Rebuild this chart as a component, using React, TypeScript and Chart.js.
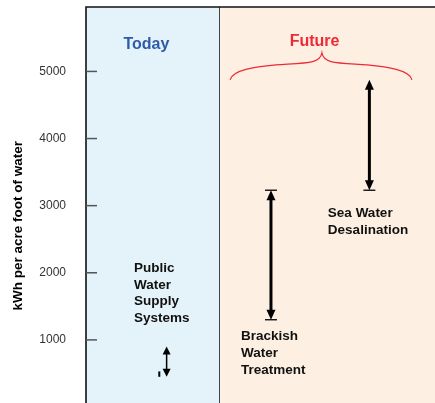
import React, { useEffect, useRef } from "react";
import { Chart, registerables } from "chart.js";

Chart.register(...registerables);

// ---- data ----
const yTickValues = [1000, 2000, 3000, 4000, 5000];
const categories = [
  ["Public", "Water", "Supply", "Systems"],
  ["Brackish", "Water", "Treatment"],
  ["Sea Water", "Desalination"],
];
const arrowX = [23.1, 53.0, 81.2];
const lowValues = [450, 1300, 3230];
const highValues = [900, 3230, 4875];
const capLow = [false, true, true];
const capHigh = [false, true, false];
const labelX = [13.75, 44.4, 69.3];
const labelY = [2072, 1058, 2892];
const markX = [21.0];
const markLow = [450];
const markHigh = [530];
const periodBoundary = 38.4;
const periodLabels = ["Today", "Future"];
const periodLabelX = [17.3, 65.5];
const periodLabelY = [5395, 5440];
const braceX = [41.3, 67.6, 93.4];
const braceY = [4875, 5083, 5277];
const yTitle = "kWh per acre foot of water";

const FONT = "'Liberation Sans', Arial, Helvetica, sans-serif";

const drawPlugin = {
  id: "custom",
  beforeDraw(chart: any) {
    const { ctx, chartArea, scales } = chart;
    const xs = scales.x;
    const xb = xs.getPixelForValue(periodBoundary);
    ctx.save();
    ctx.fillStyle = "#e4f3f9";
    ctx.fillRect(chartArea.left, chartArea.top, xb - chartArea.left, chartArea.bottom - chartArea.top);
    ctx.fillStyle = "#fdf0e3";
    ctx.fillRect(xb, chartArea.top, chartArea.right - xb, chartArea.bottom - chartArea.top);
    ctx.restore();
  },
  afterDraw(chart: any) {
    const { ctx, chartArea, scales } = chart;
    const xs = scales.x;
    const ys = scales.y;
    ctx.save();
    // boundary line
    const xb = Math.round(xs.getPixelForValue(periodBoundary)) - 0.5;
    ctx.strokeStyle = "#3a4650";
    ctx.lineWidth = 1;
    ctx.beginPath();
    ctx.moveTo(xb, chartArea.top);
    ctx.lineTo(xb, chartArea.bottom);
    ctx.stroke();
    // axis + top border
    ctx.strokeStyle = "#111";
    ctx.lineWidth = 1.6;
    ctx.beginPath();
    ctx.moveTo(chartArea.left, chartArea.bottom);
    ctx.lineTo(chartArea.left, chartArea.top);
    ctx.lineTo(chartArea.right, chartArea.top);
    ctx.stroke();
    // inward ticks
    ctx.strokeStyle = "#555";
    ctx.lineWidth = 1.5;
    yTickValues.forEach((v) => {
      const py = ys.getPixelForValue(v);
      ctx.beginPath();
      ctx.moveTo(chartArea.left, py);
      ctx.lineTo(chartArea.left + 11, py);
      ctx.stroke();
    });
    // y title
    ctx.save();
    ctx.translate(18, ys.getPixelForValue(2700));
    ctx.rotate(-Math.PI / 2);
    ctx.fillStyle = "#000";
    ctx.font = `bold 13.5px ${FONT}`;
    ctx.textAlign = "center";
    ctx.textBaseline = "middle";
    ctx.fillText(yTitle, 0, 0);
    ctx.restore();

    // arrows
    arrowX.forEach((xv, i) => {
      const px = xs.getPixelForValue(xv);
      const pLow = ys.getPixelForValue(lowValues[i]);
      const pHigh = ys.getPixelForValue(highValues[i]);
      const small = i === 0;
      const hl = small ? 8 : 10;
      const hw = small ? 4 : 4.5;
      ctx.strokeStyle = "#000";
      ctx.fillStyle = "#000";
      ctx.lineWidth = small ? 1.5 : 3;
      ctx.beginPath();
      ctx.moveTo(px, pHigh + hl - 1);
      ctx.lineTo(px, pLow - hl + 1);
      ctx.stroke();
      // heads
      ctx.beginPath();
      ctx.moveTo(px, pHigh);
      ctx.lineTo(px - hw, pHigh + hl);
      ctx.lineTo(px + hw, pHigh + hl);
      ctx.closePath();
      ctx.fill();
      ctx.beginPath();
      ctx.moveTo(px, pLow);
      ctx.lineTo(px - hw, pLow - hl);
      ctx.lineTo(px + hw, pLow - hl);
      ctx.closePath();
      ctx.fill();
      ctx.lineWidth = 1.3;
      if (capHigh[i]) {
        ctx.beginPath();
        ctx.moveTo(px - 6, pHigh);
        ctx.lineTo(px + 6, pHigh);
        ctx.stroke();
      }
      if (capLow[i]) {
        ctx.beginPath();
        ctx.moveTo(px - 6, pLow);
        ctx.lineTo(px + 6, pLow);
        ctx.stroke();
      }
    });
    // small stray mark
    markX.forEach((xv, i) => {
      const px = xs.getPixelForValue(xv);
      ctx.fillStyle = "#000";
      const t = ys.getPixelForValue(markHigh[i]);
      const b = ys.getPixelForValue(markLow[i]);
      ctx.fillRect(px - 1, t, 2, b - t);
    });

    // category labels
    ctx.fillStyle = "#111";
    ctx.font = `bold 13.5px ${FONT}`;
    ctx.textAlign = "left";
    ctx.textBaseline = "middle";
    categories.forEach((lines, i) => {
      const px = xs.getPixelForValue(labelX[i]);
      const py = ys.getPixelForValue(labelY[i]);
      lines.forEach((ln, k) => ctx.fillText(ln, px, py + k * 16.9));
    });

    // period labels
    ctx.font = `bold 16px ${FONT}`;
    ctx.textAlign = "center";
    const periodColors = ["#2d5ba8", "#ee2a36"];
    periodLabels.forEach((t, i) => {
      ctx.fillStyle = periodColors[i];
      ctx.fillText(t, xs.getPixelForValue(periodLabelX[i]), ys.getPixelForValue(periodLabelY[i]));
    });

    // brace
    const x0 = xs.getPixelForValue(braceX[0]);
    const xc = xs.getPixelForValue(braceX[1]);
    const x1 = xs.getPixelForValue(braceX[2]);
    const yEnd = ys.getPixelForValue(braceY[0]);
    const yMid = ys.getPixelForValue(braceY[1]);
    const yTop = ys.getPixelForValue(braceY[2]);
    ctx.strokeStyle = "#ee2a36";
    ctx.lineWidth = 1.2;
    ctx.beginPath();
    ctx.moveTo(x0, yEnd);
    ctx.bezierCurveTo(x0 + 2, yMid + 4, x0 + 25, yMid + 1, (x0 + xc) / 2, yMid - 1);
    ctx.bezierCurveTo(xc - 15, yMid - 3, xc - 2, yMid - 2, xc, yTop);
    ctx.bezierCurveTo(xc + 2, yMid - 2, xc + 15, yMid - 3, (xc + x1) / 2, yMid - 1);
    ctx.bezierCurveTo(x1 - 25, yMid + 1, x1 - 2, yMid + 4, x1, yEnd);
    ctx.stroke();
    ctx.restore();
  },
};

export default function App() {
  const ref = useRef<HTMLCanvasElement>(null);
  useEffect(() => {
    if (!ref.current) return;
    const chart = new Chart(ref.current, {
      type: "scatter",
      data: {
        datasets: [
          {
            data: arrowX.map((x, i) => ({ x, y: lowValues[i] })),
            pointRadius: 0,
            showLine: false,
          },
        ],
      },
      options: {
        animation: false,
        responsive: false,
        events: [],
        layout: { padding: { top: 7, left: 0, right: 0, bottom: 0 } },
        plugins: { legend: { display: false }, tooltip: { enabled: false } },
        scales: {
          x: { type: "linear", min: 0, max: 100, display: false },
          y: {
            type: "linear",
            min: 0,
            max: 5960,
            afterFit: (s: any) => {
              s.width = 86;
              s.paddingTop = 0;
              s.paddingBottom = 0;
            },
            afterBuildTicks: (s: any) => {
              s.ticks = yTickValues.map((v) => ({ value: v }));
            },
            grid: { display: false, drawTicks: true, tickLength: 20 },
            border: { display: false },
            ticks: {
              padding: 0,
              color: "#333",
              font: { family: FONT, size: 12 },
              callback: (v: any) => String(v),
            },
          },
        },
      },
      plugins: [drawPlugin],
    });
    return () => chart.destroy();
  }, []);
  return (
    <div style={{ position: "fixed", left: 0, top: 0, width: 435, height: 407 }}>
      <canvas ref={ref} width={435} height={407} style={{ display: "block" }} />
    </div>
  );
}
